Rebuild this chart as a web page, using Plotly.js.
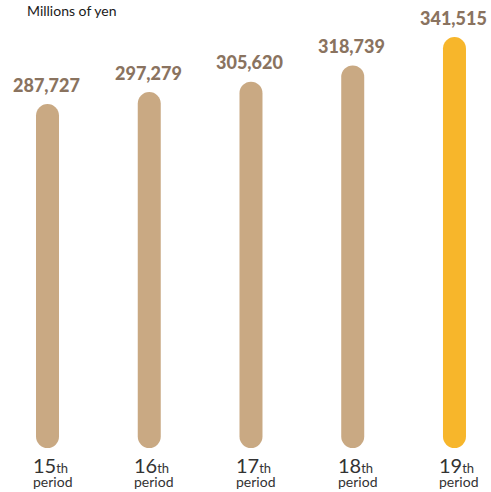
<!DOCTYPE html>
<html>
<head>
<meta charset="utf-8">
<script src="https://cdn.plot.ly/plotly-3.0.1.min.js"></script>
<style>
  html, body { margin: 0; padding: 0; background: #ffffff; }
  #chart { width: 491px; height: 492px; }
  .scatterlayer .js-line { stroke-linecap: round; }
</style>
</head>
<body>
<div id="chart"></div>
<script>
// ---- data ----
const periods = ["15", "16", "17", "18", "19"];
const ordinalSuffix = ["th", "th", "th", "th", "th"];
const periodWord = "period";
const values = [287727, 297279, 305620, 318739, 341515];
const unitLabel = "Millions of yen";
const highlightIndex = 4;

// ---- styles ----
const TAN = "#C9A983";
const GOLD = "#F7B62B";
const LABEL_BROWN = "#8A735F";
const TEXT_DARK = "#333333";
const FONT = "Lato, 'Open Sans', sans-serif";
const BAR_BASE = 30000;   // where the rounded bars start (axis units)
const BAR_WIDTH = 23;

const traces = values.map((v, i) => ({
  type: "scatter",
  mode: "lines",
  x: [i, i],
  y: [BAR_BASE, v],
  line: { color: i === highlightIndex ? GOLD : TAN, width: BAR_WIDTH },
  hoverinfo: "skip",
  showlegend: false
}));

const annotations = [];
values.forEach((v, i) => {
  annotations.push({
    xref: "x", yref: "y", x: i, y: v,
    text: v.toLocaleString("en-US"),
    showarrow: false, xanchor: "center", yanchor: "middle",
    yshift: 31, xshift: -1,
    font: { family: FONT, size: 18, color: LABEL_BROWN, weight: 900 }
  });
  annotations.push({
    xref: "x", yref: "paper", x: i, y: 0,
    text: "<span style='font-size:20px'>" + periods[i] + "</span>" +
          "<span style='font-size:13px'>" + ordinalSuffix[i] + "</span>" +
          "<br><span style='font-size:14px'>" + periodWord + "</span>",
    showarrow: false, xanchor: "left", yanchor: "bottom", align: "left",
    xshift: -17, yshift: 0,
    font: { family: FONT, size: 11, color: TEXT_DARK }
  });
});

const layout = {
  width: 491, height: 492,
  margin: { l: 0, r: 0, t: 0, b: 0 },
  paper_bgcolor: "#ffffff", plot_bgcolor: "#ffffff",
  title: {
    text: unitLabel,
    x: 27 / 491, xanchor: "left", xref: "paper",
    y: 1 - 6 / 492, yanchor: "top",
    font: { family: FONT, size: 14, color: "#1a1a1a" }
  },
  xaxis: { range: [-0.467, 4.359], visible: false, fixedrange: true },
  yaxis: { range: [-14531, 380459], visible: false, fixedrange: true },
  annotations: annotations,
  showlegend: false
};

Plotly.newPlot("chart", traces, layout, { displayModeBar: false, staticPlot: true });
</script>
</body>
</html>
